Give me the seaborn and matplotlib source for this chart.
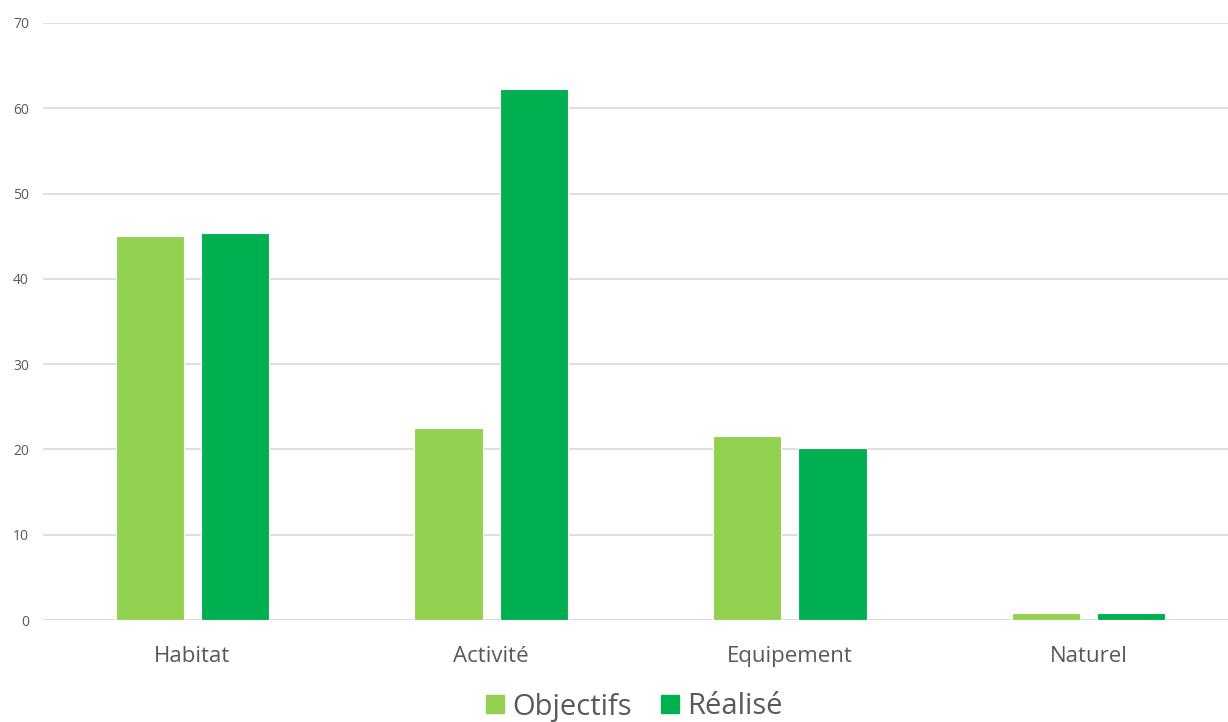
import matplotlib
matplotlib.use("Agg")
import matplotlib.pyplot as plt
import seaborn as sns
import pandas as pd

categories = ["Habitat", "Activité", "Equipement", "Naturel"]
objectifs = [45.0, 22.5, 21.6, 0.8]
realise = [45.4, 62.3, 20.2, 0.8]
series = ["Objectifs", "Réalisé"]
colors = ["#92D050", "#00B050"]

df = pd.DataFrame({
    "cat": categories * 2,
    "val": objectifs + realise,
    "serie": [series[0]] * 4 + [series[1]] * 4,
})

sns.set_theme(style="white")
plt.rcParams["font.family"] = ["Open Sans", "DejaVu Sans"]

fig = plt.figure(figsize=(12.28, 7.22), dpi=100)
ax = fig.add_axes([43 / 1228, 102 / 722, 1195 / 1228, 597 / 722])

sns.barplot(data=df, x="cat", y="val", hue="serie", order=categories,
            hue_order=series, palette=colors, width=0.57, gap=0.2,
            edgecolor="white", linewidth=0.8, saturation=1, ax=ax, zorder=3)

ax.set_ylim(0, 70)
ax.set_yticks(range(0, 71, 10))
ax.set_xlim(-0.5, 3.5)
ax.grid(axis="y", color="#D9D9D9", linewidth=1.2, zorder=0)
ax.set_axisbelow(True)
for s in ax.spines.values():
    s.set_visible(False)
ax.axhline(0, color="#D9D9D9", linewidth=1.2, zorder=1)
ax.set_xlabel("")
ax.set_ylabel("")
ax.tick_params(axis="y", length=0, labelsize=10, labelcolor="#595959", pad=10)
ax.tick_params(axis="x", length=0, labelsize=16, labelcolor="#595959", pad=18.5)

ax.legend_.remove()
handles = [plt.Line2D([], [], marker="s", linestyle="", markersize=13,
                      markerfacecolor=c, markeredgecolor=c) for c in colors]
fig.legend(handles, series, loc="center", bbox_to_anchor=(633 / 1228, 1 - 707 / 722),
           ncol=2, frameon=False, fontsize=21, labelcolor="#595959",
           handlelength=0.8, handletextpad=0.2, columnspacing=0.9,
           borderpad=0)

fig.savefig("out.png", dpi=100, facecolor="white")
